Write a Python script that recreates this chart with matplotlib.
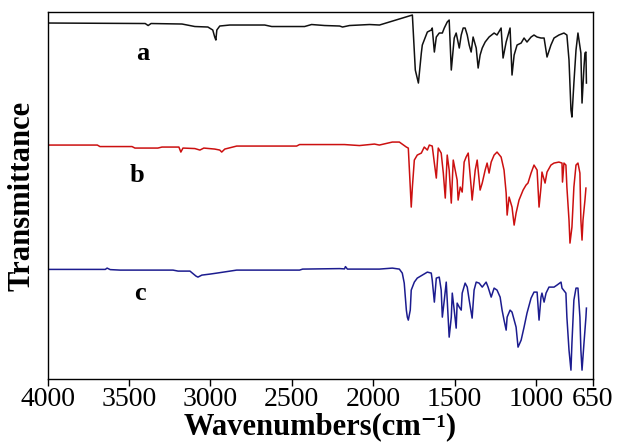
import matplotlib.pyplot as plt

plt.rcParams['font.family'] = ['Liberation Serif', 'DejaVu Serif']

# spectrum a (black), transmittance in arbitrary units
wn_a = [4000, 3400, 3382, 3364, 3174, 3095, 3015, 2985, 2973, 2966, 2960, 2942, 2880, 2666,
        2623, 2421, 2378, 2298, 2206, 2188, 2145, 2022, 1961, 1759, 1741, 1722, 1704, 1698,
        1679, 1667, 1643, 1637, 1624, 1612, 1594, 1575, 1563, 1545, 1533, 1520, 1502, 1490,
        1471, 1459, 1447, 1435, 1422, 1410, 1398, 1386, 1367, 1355, 1343, 1330, 1312, 1288,
        1257, 1239, 1214, 1202, 1183, 1171, 1159, 1147, 1134, 1116, 1091, 1073, 1055, 1030,
        1012, 993, 969, 950, 932, 908, 889, 859, 828, 810, 797, 785, 779, 767, 754, 742, 724,
        717, 705, 699, 693, 690]
t_a = [356, 355.5, 353.5, 355.5, 355, 352.5, 352, 349, 342, 339, 349, 353, 354, 354,
       352.5, 352.5, 354.5, 353.5, 353, 352, 353.5, 354.5, 354, 364, 309, 296, 326, 334,
       342, 347, 349, 351, 327, 342, 346, 346, 351, 357, 359, 309, 341, 346,
       331, 344, 351, 351, 344, 334, 327, 342, 331, 311, 324, 331, 337, 342,
       346, 344, 351, 321, 337, 344, 351, 304, 324, 334, 336, 341, 337, 342,
       344, 342, 341, 341, 322, 334, 341, 344, 346, 344, 319, 269, 262, 296, 329, 346, 326,
       276, 312, 326, 327, 296]

# spectrum b (red)
wn_b = [4000, 3694, 3678, 3481, 3463, 3322, 3297, 3193, 3181, 3168, 3095, 3064, 3040, 2973,
        2942, 2930, 2911, 2838, 2470, 2452, 2176, 2084, 1992, 1962, 1882, 1839, 1796, 1784,
        1772, 1766, 1759, 1747, 1729, 1704, 1686, 1667, 1655, 1637, 1624, 1612, 1600, 1582,
        1569, 1557, 1545, 1533, 1520, 1508, 1496, 1484, 1478, 1465, 1453, 1441, 1429, 1416,
        1398, 1392, 1373, 1361, 1343, 1330, 1312, 1300, 1288, 1275, 1257, 1239, 1214, 1196,
        1183, 1177, 1165, 1147, 1134, 1122, 1104, 1079, 1061, 1049, 1030, 1012, 993, 981,
        969, 963, 944, 932, 908, 889, 859, 840, 837, 828, 816, 810, 797, 791, 779, 767, 754,
        742, 730, 724, 717, 711, 699, 693]
t_b = [234, 234, 232.5, 232.5, 231, 231, 232, 232, 227, 231, 230.5, 229, 231, 230,
       229, 227, 230, 233, 233, 234.5, 234.5, 233.5, 235, 234, 237, 237, 232, 231,
       192, 172, 192, 219, 224, 226, 232, 229, 234, 233, 216, 201, 231, 226,
       206, 181, 224, 209, 176, 219, 209, 199, 179, 192, 187, 217, 222, 226,
       192, 179, 209, 219, 189, 196, 209, 216, 206, 217, 224, 227, 222, 209,
       186, 164, 182, 172, 154, 166, 179, 189, 194, 196, 206, 214, 209, 172,
       192, 207, 196, 207, 214, 216, 217, 216, 197, 216, 214, 192, 159, 136, 152, 192, 214,
       216, 206, 159, 139, 159, 179, 191]

# spectrum c (blue)
wn_c = [4000, 3645, 3634, 3615, 3554, 3229, 3198, 3125, 3088, 3076, 3052, 3003, 2960, 2838,
        2452, 2433, 2206, 2176, 2170, 2158, 1962, 1882, 1839, 1821, 1809, 1796, 1790, 1784,
        1772, 1766, 1747, 1729, 1698, 1667, 1643, 1637, 1624, 1612, 1594, 1582, 1575, 1563,
        1551, 1545, 1533, 1520, 1514, 1502, 1490, 1484, 1471, 1459, 1453, 1435, 1422, 1410,
        1392, 1380, 1367, 1349, 1330, 1306, 1294, 1275, 1257, 1239, 1220, 1208, 1196, 1183,
        1177, 1159, 1147, 1122, 1110, 1091, 1073, 1055, 1030, 1012, 993, 981, 969, 963, 950,
        938, 920, 889, 871, 846, 840, 816, 810, 797, 785, 779, 767, 754, 742, 730, 724, 717,
        705, 693, 690]
t_c = [109.7, 109.7, 111, 109.5, 109, 109, 108, 108, 103, 102, 104, 105, 106, 109,
       109, 110, 110.5, 110.2, 112.5, 110, 110, 111, 110, 106, 96, 69, 62, 59,
       69, 89, 97, 101, 104, 107, 106, 99, 77, 101, 102, 89, 62, 79,
       97, 79, 42, 62, 86, 69, 51, 76, 72, 69, 86, 96, 92, 79,
       61, 89, 97, 96, 92, 97, 92, 82, 91, 89, 82, 69, 59, 49,
       62, 69, 67, 52, 32, 39, 52, 66, 81, 87, 87, 59, 82, 86, 77,
       86, 92, 92, 94, 97, 91, 86, 62, 29, 9, 36, 79, 91, 91, 62, 29, 9,
       36, 62, 71]

labels = ['a', 'b', 'c']
label_wn = [3414, 3451, 3433]
label_t = [326, 204, 86]
tick_wn = [4000, 3500, 3000, 2500, 2000, 1500, 1000, 650]

fig = plt.figure(figsize=(6.17, 4.45), dpi=100)
ax = fig.add_axes([0.077, 0.148, 0.884, 0.825])

ax.plot(wn_a, t_a, color='#111111', lw=1.1)
ax.plot(wn_b, t_b, color='#cc1010', lw=1.1)
ax.plot(wn_c, t_c, color='#1c1c8f', lw=1.1)

for lab, x, y in zip(labels, label_wn, label_t):
    ax.text(x, y, lab, fontsize=19, fontweight='bold', ha='center', va='center')

ax.set_xlim(4000, 650)
ax.set_ylim(0, 367)
ax.set_xticks(tick_wn)
ax.set_xticklabels([str(t) for t in tick_wn], fontsize=20)
ax.set_yticks([])
ax.tick_params(axis='x', direction='out', length=5, width=1, pad=1)
for s in ax.spines.values():
    s.set_linewidth(1.0)

ax.set_xlabel('Wavenumbers(cm\u207b\u00b9)', fontsize=22, fontweight='bold', labelpad=0)
ax.set_ylabel('Transmittance', fontsize=22, fontweight='bold', labelpad=8)

fig.savefig('out.png', dpi=100)
